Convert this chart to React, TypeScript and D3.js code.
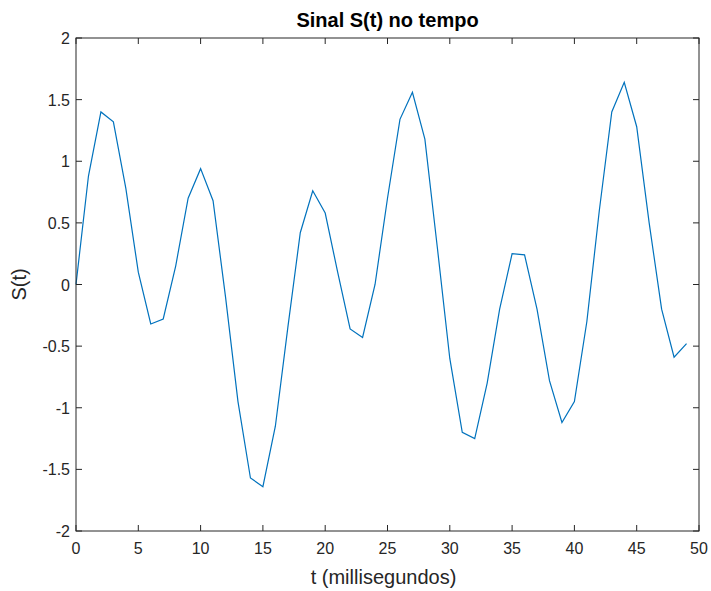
import React from "react";
import * as d3 from "d3";

const tValues: number[] = Array.from({ length: 50 }, (_, i) => i);
const sValues: number[] = [
  0, 0.88, 1.4, 1.32, 0.78, 0.1, -0.32, -0.28, 0.15, 0.7,
  0.94, 0.68, -0.1, -0.95, -1.57, -1.64, -1.15, -0.35, 0.42, 0.76,
  0.58, 0.1, -0.36, -0.43, 0.0, 0.7, 1.34, 1.56, 1.18, 0.3,
  -0.6, -1.2, -1.25, -0.8, -0.2, 0.25, 0.24, -0.2, -0.78, -1.12,
  -0.95, -0.3, 0.6, 1.4, 1.64, 1.28, 0.5, -0.2, -0.59, -0.48,
];
const xTicks: number[] = [0, 5, 10, 15, 20, 25, 30, 35, 40, 45, 50];
const yTicks: number[] = [-2, -1.5, -1, -0.5, 0, 0.5, 1, 1.5, 2];
const title = "Sinal S(t) no tempo";
const xLabel = "t (millisegundos)";
const yLabel = "S(t)";

export default function App() {
  const W = 711, H = 591;
  const left = 76, right = 699, top = 38, bottom = 531;
  const x = d3.scaleLinear().domain([0, 50]).range([left, right]);
  const y = d3.scaleLinear().domain([-2, 2]).range([bottom, top]);
  const line = d3.line<number>().x((_, i) => x(tValues[i])).y((d) => y(d));
  const font = "'Liberation Sans', Arial, sans-serif";
  const tick = 6;
  const axisColor = "#262626";
  return (
    <svg width={W} height={H} style={{ position: "absolute", left: 0, top: 0, background: "#fff" }}>
      <rect x={0} y={0} width={W} height={H} fill="#fff" />
      <path d={line(sValues) || ""} fill="none" stroke="#0072BD" strokeWidth={1.2} />
      <rect x={left} y={top} width={right - left} height={bottom - top} fill="none" stroke={axisColor} strokeWidth={1} />
      {xTicks.map((t) => (
        <g key={"x" + t}>
          <line x1={x(t)} x2={x(t)} y1={bottom} y2={bottom - tick} stroke={axisColor} />
          <line x1={x(t)} x2={x(t)} y1={top} y2={top + tick} stroke={axisColor} />
          <text x={x(t)} y={bottom + 23} textAnchor="middle" fontFamily={font} fontSize={16} fill={axisColor}>
            {t}
          </text>
        </g>
      ))}
      {yTicks.map((v) => (
        <g key={"y" + v}>
          <line x1={left} x2={left + tick} y1={y(v)} y2={y(v)} stroke={axisColor} />
          <line x1={right} x2={right - tick} y1={y(v)} y2={y(v)} stroke={axisColor} />
          <text x={left - 6} y={y(v) + 6} textAnchor="end" fontFamily={font} fontSize={16} fill={axisColor}>
            {v}
          </text>
        </g>
      ))}
      <text x={(left + right) / 2 - 4} y={bottom + 53} textAnchor="middle" fontFamily={font} fontSize={20} fill={axisColor}>
        {xLabel}
      </text>
      <text
        transform={`translate(${left - 50},${(top + bottom) / 2}) rotate(-90)`}
        textAnchor="middle"
        fontFamily={font}
        fontSize={20}
        fill={axisColor}
      >
        {yLabel}
      </text>
      <text x={(left + right) / 2} y={top - 11} textAnchor="middle" fontFamily={font} fontSize={20} fontWeight="bold" fill="#000">
        {title}
      </text>
    </svg>
  );
}
